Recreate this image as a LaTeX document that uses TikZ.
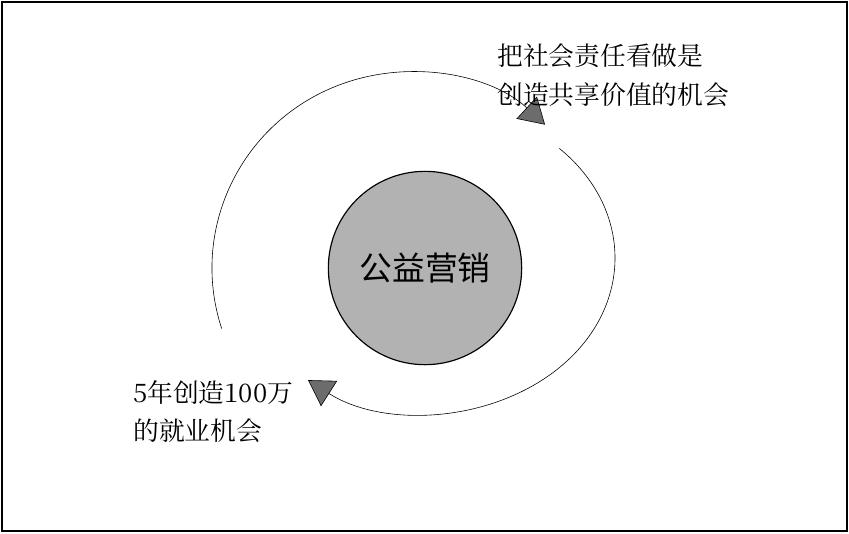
\documentclass[tikz,border=0pt]{standalone}
\usepackage{fontspec}
\newfontfamily\cjk{Noto Serif CJK SC}
\newfontfamily\cjksans{Noto Sans CJK SC}
\usetikzlibrary{arrows.meta}
\begin{document}
\begin{tikzpicture}[x=0.03cm,y=-0.03cm,
    cycle/.style={line width=0.5pt, -{Triangle[width=0.9cm,length=0.75cm,fill=gray!85!black]}},
    note/.style={anchor=north west, align=left, inner sep=0pt, font=\cjk\fontsize{22pt}{33pt}\selectfont}]
  \useasboundingbox (0,0) rectangle (849,533);
  % frame
  \draw[line width=1.5pt] (2,2) rectangle (847,531);
  % centre
  \node[circle, draw, line width=1pt, fill=gray!60, minimum size=5.8cm, font=\cjksans\fontsize{28pt}{30pt}\selectfont] (core) at (425,268) {公益营销};
  \coordinate (c1) at (410,268);
  \coordinate (c2) at (425,258);
  % cycle arcs
  \draw[cycle] (c1) ++(-198:198 and 196) arc[start angle=-198, end angle=-47, x radius=198, y radius=196];
  \draw[cycle] (c2) ++(-45:190 and 155) arc[start angle=-45, end angle=128, x radius=190, y radius=155];
  % labels
  \node[note] (value) at (497,44) {把社会责任看做是\\创造共享价值的机会};
  \node[note] (jobs) at (133,380) {5年创造100万\\的就业机会};
\end{tikzpicture}
\end{document}
